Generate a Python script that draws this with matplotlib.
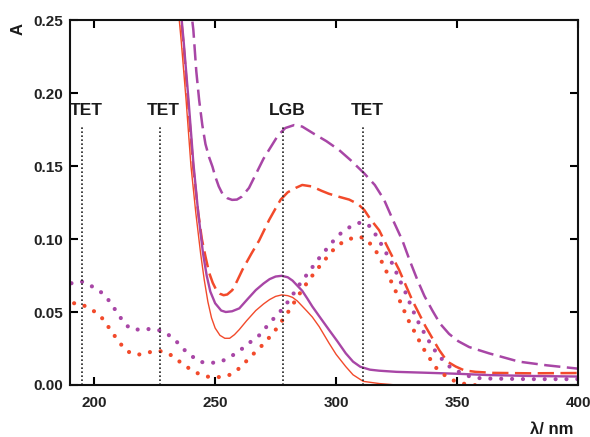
import matplotlib
matplotlib.use('Agg')
import matplotlib.pyplot as plt
import numpy as np

# wavelengths (nm) and absorbances
rs_wl = [234.5, 236, 238, 240, 242, 244, 245.5, 247, 248.5, 250, 252, 254, 256, 258, 260,
         263, 266.8, 270, 272.5, 275, 277.5, 280, 282, 284, 286, 288, 290.2, 293, 297.1, 300,
         304, 307, 311.2, 317.8, 325, 330]
rs_a = [0.262, 0.235, 0.195, 0.150, 0.118, 0.090, 0.072, 0.057, 0.046, 0.039, 0.034, 0.032,
        0.032, 0.0345, 0.038, 0.044, 0.051, 0.0555, 0.0585, 0.0607, 0.0617, 0.0612, 0.060,
        0.0575, 0.054, 0.0505, 0.0465, 0.040, 0.0286, 0.021, 0.0126, 0.007, 0.0025, 0.001,
        0.0, -0.001]

ps_wl = [235.5, 237, 239, 241, 243, 245, 246.5, 248, 250, 252.5, 254.4, 257, 260, 263.5,
         266.8, 270, 272.5, 275, 277.5, 280, 282, 284, 286, 288, 290.2, 293.5, 297.1, 300.5,
         304, 307, 310, 314, 317.8, 325, 337, 350, 363, 380, 400]
ps_a = [0.262, 0.235, 0.195, 0.152, 0.118, 0.090, 0.075, 0.064, 0.056, 0.051, 0.050, 0.0505,
        0.0525, 0.059, 0.065, 0.0695, 0.0725, 0.0743, 0.0748, 0.0738, 0.0715, 0.068, 0.0645,
        0.0595, 0.0537, 0.046, 0.0377, 0.030, 0.0217, 0.016, 0.0125, 0.0105, 0.0098, 0.009,
        0.0084, 0.0077, 0.0068, 0.0062, 0.0058]

rd_wl = [235.3, 237, 239, 241, 243, 244.5, 246, 247.5, 249, 250.5, 252, 253.5, 255, 257.1,
         259, 261.3, 265, 268.2, 272.3, 275, 277.1, 280, 283.3, 286, 290, 294, 297, 301, 305.4,
         309, 311.6, 314, 317.8, 322, 326, 331.5, 337, 342.6, 346, 349.5, 353, 357.7, 365,
         380, 400]
rd_a = [0.262, 0.232, 0.190, 0.148, 0.118, 0.100, 0.088, 0.077, 0.070, 0.065, 0.0625, 0.0615,
        0.062, 0.065, 0.071, 0.079, 0.090, 0.099, 0.113, 0.121, 0.127, 0.132, 0.135, 0.137,
        0.136, 0.133, 0.131, 0.129, 0.127, 0.124, 0.120, 0.114, 0.106, 0.092, 0.079, 0.058,
        0.040, 0.024, 0.016, 0.0126, 0.010, 0.009, 0.0083, 0.008, 0.0082]

pd_wl = [239.5, 241, 242.2, 243.4, 244.7, 246, 247.5, 248.9, 250, 251.5, 253, 255, 257, 259,
         261, 264, 267, 270, 273, 276, 279, 282.6, 286, 290.9, 296, 301.2, 306, 311.6, 316,
         319.8, 323.5, 327.4, 330.5, 333.6, 336.5, 339.8, 343, 346.7, 350.5, 355, 363.2, 375.6,
         387, 400]
pd_a = [0.265, 0.243, 0.215, 0.195, 0.178, 0.165, 0.156, 0.1495, 0.143, 0.136, 0.131, 0.128,
        0.1268, 0.127, 0.129, 0.135, 0.145, 0.155, 0.163, 0.171, 0.176, 0.178, 0.177, 0.172,
        0.167, 0.161, 0.154, 0.145, 0.137, 0.127, 0.113, 0.099, 0.085, 0.072, 0.061, 0.051,
        0.042, 0.035, 0.030, 0.026, 0.0217, 0.016, 0.0135, 0.0112]

pdt_wl = [190.6, 192.5, 194.5, 197, 200.7, 203.3, 206, 208.3, 210.5, 212.4, 214, 215.8,
          218.5, 221.4, 225.5, 228, 231, 234.5, 237.9, 241, 243.4, 246.5, 249.6, 252.5,
          255.8, 259, 262, 265, 268.2, 272.3, 275, 277.8, 281, 284.5, 288.8, 293.5, 298.5,
          302, 305.5, 309.5, 312, 314.5, 317.8, 320.5, 323.3, 326, 328.8, 331.5, 334.3, 337,
          339.8, 342.5, 345.3, 348, 350.8, 355, 360, 380, 400]
pdt_a = [0.0697, 0.0705, 0.071, 0.0695, 0.066, 0.063, 0.058, 0.0525, 0.047, 0.0427, 0.040,
         0.038, 0.038, 0.0384, 0.038, 0.037, 0.034, 0.029, 0.023, 0.019, 0.016, 0.0152,
         0.0153, 0.016, 0.019, 0.022, 0.026, 0.030, 0.034, 0.042, 0.047, 0.052, 0.059, 0.068,
         0.0776, 0.088, 0.098, 0.104, 0.108, 0.111, 0.111, 0.108, 0.099, 0.091, 0.083, 0.073,
         0.063, 0.052, 0.042, 0.034, 0.026, 0.020, 0.015, 0.011, 0.009, 0.006, 0.0045, 0.004,
         0.004]

rdt_wl = [191.7, 194.5, 198, 201.4, 204, 206.2, 208.3, 210.5, 213, 215.8, 218, 220, 223,
          225.5, 228.2, 231.7, 234.5, 237.2, 240, 243.4, 246.5, 249.6, 252.5, 255.8, 259, 262,
          265, 268.2, 271, 273.7, 276, 278.5, 280.6, 284.5, 288.8, 293.5, 298.5, 302, 305.5,
          309.5, 312.5, 316.4, 319, 321.9, 324.7, 327.4, 330, 332.9, 335.7, 338.4, 341.2,
          343.9, 347, 352.2, 357, 362]
rdt_a = [0.056, 0.0555, 0.0525, 0.049, 0.0445, 0.039, 0.034, 0.029, 0.024, 0.0212, 0.0208,
         0.0212, 0.0225, 0.0235, 0.023, 0.0205, 0.017, 0.0137, 0.0105, 0.0075, 0.0058, 0.0053,
         0.0055, 0.0068, 0.010, 0.0148, 0.020, 0.025, 0.030, 0.035, 0.040, 0.046, 0.051,
         0.0615, 0.072, 0.082, 0.092, 0.097, 0.100, 0.1016, 0.100, 0.092, 0.084, 0.074, 0.064,
         0.0536, 0.044, 0.035, 0.026, 0.019, 0.012, 0.008, 0.004, 0.001, 0.0, -0.001]

# marker lines for the bands
band_wl = [195, 227, 278, 311]
band_names = ['TET', 'TET', 'LGB', 'TET']
band_top = 0.178

purple = '#a846a6'
red = '#f24a2b'

plt.rcParams['font.family'] = ['Liberation Sans', 'DejaVu Sans']

fig = plt.figure(figsize=(5.9, 4.37), dpi=100)
ax = fig.add_axes([70 / 590, 52 / 437, 508 / 590, 365 / 437])

dash = (0, (6.5, 2.6))
dots = (0, (0.01, 2.6))

ax.plot(pd_wl, pd_a, color=purple, lw=1.8, linestyle=dash)
ax.plot(rd_wl, rd_a, color=red, lw=1.8, linestyle=dash)
ax.plot(ps_wl, ps_a, color=purple, lw=1.7)
ax.plot(rs_wl, rs_a, color=red, lw=1.0)
ax.plot(pdt_wl, pdt_a, color=purple, lw=3.0, linestyle=dots, dash_capstyle='round')
ax.plot(rdt_wl, rdt_a, color=red, lw=3.0, linestyle=dots, dash_capstyle='round')

for wl, name in zip(band_wl, band_names):
    ax.plot([wl, wl], [0, band_top], color='#222222', lw=1.2, linestyle=(0, (1, 1.4)))
    ax.annotate(name, xy=(wl, 0.185), xytext=(3, 0), textcoords='offset points',
                ha='center', va='baseline', fontsize=12.5, fontweight='bold', color='#1a1a1a')

ax.set_xlim(190, 400)
ax.set_ylim(0, 0.25)
ax.set_xticks([200, 250, 300, 350, 400])
ax.set_yticks([0.00, 0.05, 0.10, 0.15, 0.20, 0.25])
ax.yaxis.set_major_formatter(matplotlib.ticker.FormatStrFormatter('%.2f'))

ax.tick_params(direction='in', length=6, width=1.5, top=True, right=True,
               labelsize=11, labelcolor='#222222')
ax.tick_params(axis='x', pad=8)
ax.tick_params(axis='y', pad=5)
for lab in ax.get_xticklabels() + ax.get_yticklabels():
    lab.set_fontweight('bold')
for sp in ax.spines.values():
    sp.set_linewidth(1.5)
    sp.set_color('#111111')

fig.text(18 / 590, 1 - 29 / 437, 'A', rotation=90, ha='center', va='center',
         fontsize=12, fontweight='bold', color='#1a1a1a')
fig.text(552 / 590, 1 - 430 / 437, 'λ/ nm', ha='center', va='center',
         fontsize=12, fontweight='bold', color='#1a1a1a')

fig.savefig('out.png', dpi=100)
